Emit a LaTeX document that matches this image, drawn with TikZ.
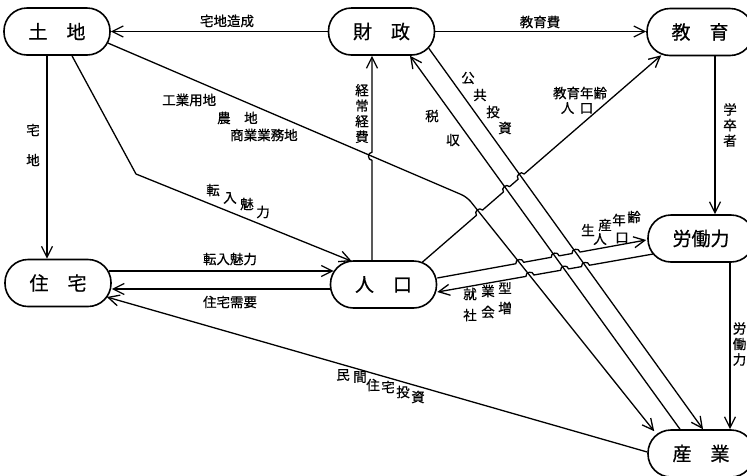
\documentclass[tikz,border=0pt]{standalone}
\usepackage{fontspec}
\setmainfont{Noto Sans CJK JP}[FakeBold=0.6]
\usetikzlibrary{arrows.meta,calc,intersections}
\begin{document}
\begin{tikzpicture}[x=1pt,y=-1pt,
  box/.style={draw, line width=1.6pt, rectangle, rounded corners=23pt, minimum width=106pt, minimum height=47pt, inner sep=0pt, font=\fontsize{19}{19}\selectfont},
  ln/.style={line width=1.3pt, line join=round},
  >={Straight Barb[length=11pt,width=11pt]},
  lab/.style={font=\fontsize{13.5}{13.5}\selectfont, inner sep=0pt},
  vlab/.style={inner sep=0pt, align=center, font=\fontsize{13.5}{15.5}\selectfont},
  hop/.style={bend left=90, looseness=1.5}]
\useasboundingbox (0,0) rectangle (747,475);

% nodes
\node[box] (tochi) at (57,31.5) {土\hspace{1em}地};
\node[box] (zaisei) at (381.5,31.5) {財\hspace{1em}政};
\node[box] (kyoiku) at (700,32) {教\hspace{1em}育};
\node[box] (rodo) at (701,238.5) {労働力};
\node[box] (sangyo) at (701,453.5) {産\hspace{1em}業};
\node[box] (jutaku) at (58,283) {住\hspace{1em}宅};
\node[box] (jinko) at (383.5,284.5) {人\hspace{1em}口};

% simple connectors
\draw[ln,->] (zaisei.west) -- (tochi.east);
\draw[ln,->] (zaisei.east) -- (zaisei.east -| kyoiku.west);
\draw[ln,->] (kyoiku.south -| 715,0) -- (rodo.north -| 715,0);
\draw[ln,->] (rodo.south -| 730,0) -- (sangyo.north -| 730,0);
\draw[ln,->] (tochi.south -| 47,0) -- (jutaku.north -| 47,0);
\coordinate (b1) at (136,174);
\draw[ln,->] (tochi.south -| 72,0) -- (b1) -- ($(jinko.north west)+(22,1)$);
\draw[ln,->] ($(jinko.west)+(0.5,4.5)$) -- ($(jutaku.east)+(0,6)$);
\draw[ln,->] ($(jutaku.east)+(-3,-12)$) -- ($(jinko.west)+(4,-13.5)$);
\draw[ln,->] ($(sangyo.west)+(0,-1.5)$) -- ($(jutaku.east)+(-5,14)$);

% long diagonal lines
\coordinate (l0) at ($(tochi.east)+(-3,11.5)$);
\coordinate (b2) at (467,197);
\coordinate (l1) at ($(sangyo.north west)+(7,2)$);
\draw[ln,->,rounded corners=6pt,name path=pLand] (l0) -- (b2) -- (l1);
\coordinate (p0) at ($(zaisei.south east)+(-6.5,-7.5)$);
\coordinate (p1) at (sangyo.north -| 703,0);
\draw[ln,->,name path=pPub] (p0) -- (p1);
\coordinate (t0) at (sangyo.north -| 680,0);
\coordinate (t1) at (zaisei.south -| 410,0);
\draw[ln,->,name path=pTax] (t0) -- (t1);

% vertical jinko -> zaisei with hop
\coordinate (v0) at (jinko.north -| 372,0);
\coordinate (v1) at (zaisei.south -| 372,0);
\path[name path=pV] (v0) -- (v1);
\path[name intersections={of=pV and pLand,by=vA}];
\draw[ln,->] (v0) -- ($(vA)!4pt!(v0)$) to[hop] ($(vA)!4pt!(v1)$) -- (v1);

% jinko -> kyoiku with hops
\coordinate (e0) at ($(jinko.north east)+(-15,2)$);
\coordinate (e1) at ($(kyoiku.south west)+(15,-1)$);
\path[name path=pE] (e0) -- (e1);
\path[name intersections={of=pE and pLand,by=eA}];
\path[name intersections={of=pE and pTax,by=eB}];
\path[name intersections={of=pE and pPub,by=eC}];
\draw[ln,->] (e0) -- ($(eA)!4pt!(e0)$) to[hop] ($(eA)!4pt!(e1)$)
  -- ($(eB)!4pt!(e0)$) to[hop] ($(eB)!4pt!(e1)$)
  -- ($(eC)!4pt!(e0)$) to[hop] ($(eC)!4pt!(e1)$) -- (e1);

% jinko -> rodo (upper)
\coordinate (u0) at ($(jinko.east)+(0,-6.5)$);
\coordinate (u1) at ($(rodo.west)+(-1,1.5)$);
\path[name path=pU] (u0) -- (u1);
\path[name intersections={of=pU and pLand,by=uA}];
\path[name intersections={of=pU and pTax,by=uB}];
\path[name intersections={of=pU and pPub,by=uC}];
\draw[ln,->] (u0) -- ($(uA)!4pt!(u0)$) to[hop] ($(uA)!4pt!(u1)$)
  -- ($(uB)!4pt!(u0)$) to[hop] ($(uB)!4pt!(u1)$)
  -- ($(uC)!4pt!(u0)$) to[hop] ($(uC)!4pt!(u1)$) -- (u1);

% rodo -> jinko (lower)
\coordinate (w0) at ($(jinko.east)+(0,7.5)$);
\coordinate (w1) at ($(rodo.west)+(6,15.5)$);
\path[name path=pW] (w0) -- (w1);
\path[name intersections={of=pW and pLand,by=wA}];
\path[name intersections={of=pW and pTax,by=wB}];
\path[name intersections={of=pW and pPub,by=wC}];
\draw[ln,<-] (w0) -- ($(wA)!4pt!(w0)$) to[hop] ($(wA)!4pt!(w1)$)
  -- ($(wB)!4pt!(w0)$) to[hop] ($(wB)!4pt!(w1)$)
  -- ($(wC)!4pt!(w0)$) to[hop] ($(wC)!4pt!(w1)$) -- (w1);

% labels
\node[lab] (L1) at (227,21) {宅地造成};
\node[lab] (L2) at (540,22) {教育費};
\node[vlab] (L3) at (730,125) {学\\卒\\者};
\node[vlab] (L4) at (739.5,344) {労\\働\\力};
\node[lab] (L5a) at (33,130) {宅};
\node[lab] (L5b) at (33,160) {地};
\node[vlab] (L6) at (362,113.5) {経\\常\\経\\費};
\node[lab,anchor=west] (L7a) at (162,100) {工業用地};
\node[lab,anchor=west] (L7b) at (217,118) {農\hspace{1em}地};
\node[lab,anchor=west] (L7c) at (230,135) {商業業務地};
\node[lab] (L8a) at (580,93) {教育年齢};
\node[lab] (L8b) at (577,108) {人\hspace{0.4em}口};
\node[lab] (L9) at (230,259) {転入魅力};
\node[lab] (L10) at (230,302) {住宅需要};
\foreach \c/\x/\y [count=\i] in {転/213/190, 入/230/198, 魅/247/204, 力/263/212}
  \node[lab] (ta\i) at (\x,\y) {\c};
\foreach \c/\x/\y [count=\i] in {公/468/78, 共/480/95, 投/493/112, 資/505/128}
  \node[lab] (pk\i) at (\x,\y) {\c};
\foreach \c/\x/\y [count=\i] in {税/432/116, 収/453/140}
  \node[lab] (zs\i) at (\x,\y) {\c};
\foreach \c/\x/\y [count=\i] in {生/588/230, 産/605/225, 年/619/220, 齢/634/217, 人/600/239, 口/622/238}
  \node[lab] (sn\i) at (\x,\y) {\c};
\foreach \c/\x/\y [count=\i] in {就/470/294, 業/488/291, 型/505/288, 社/470/315, 会/488/312, 増/505/308}
  \node[lab] (sg\i) at (\x,\y) {\c};
\foreach \c/\x/\y [count=\i] in {民/343/375, 間/360/377, 住/373/385, 宅/388/387, 投/403/392, 資/418/397}
  \node[lab] (mj\i) at (\x,\y) {\c};
\end{tikzpicture}
\end{document}
